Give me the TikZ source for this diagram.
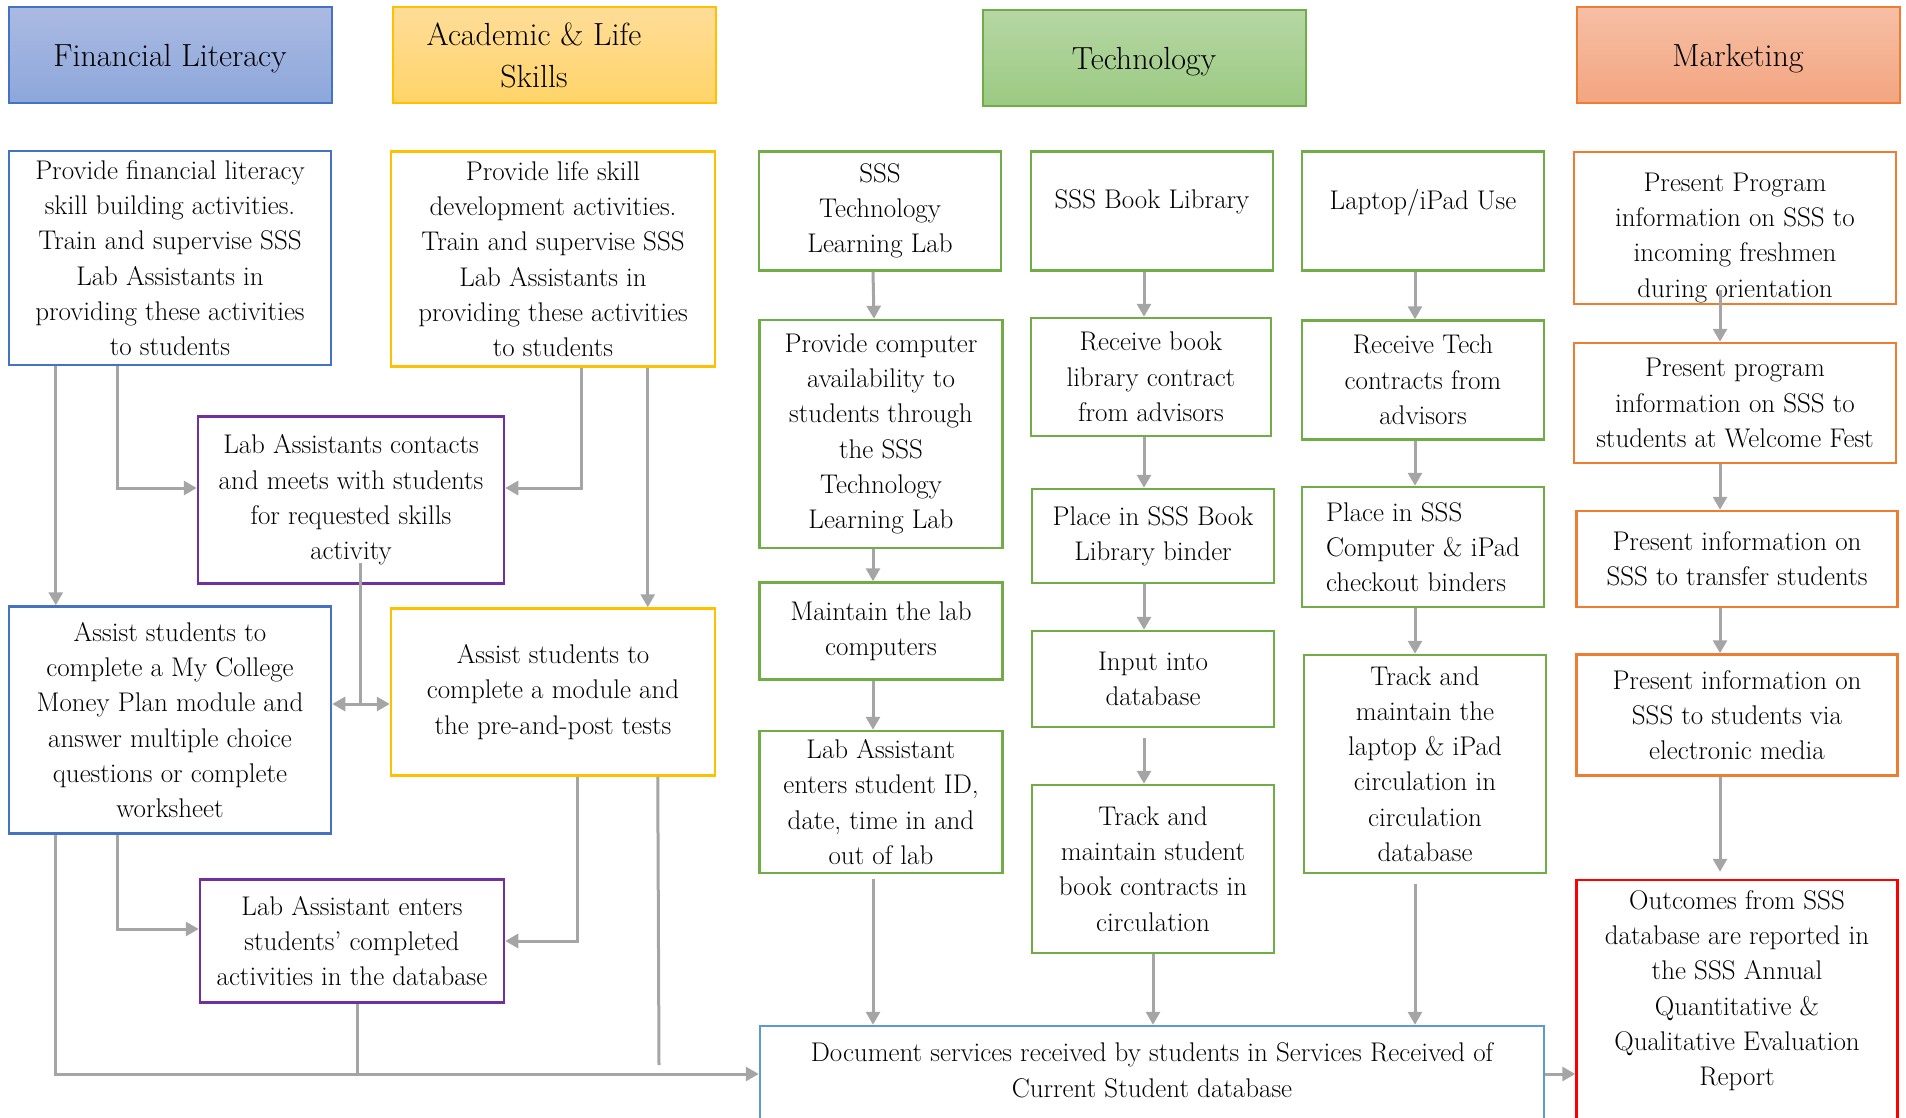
\documentclass[tikz,border=0pt]{standalone}
\usepackage{tikz}
\usetikzlibrary{arrows.meta}
\definecolor{finblue}{HTML}{4472C4}
\definecolor{finhtop}{HTML}{ABBAE2}
\definecolor{finhbot}{HTML}{8DA7DB}
\definecolor{skillgold}{HTML}{FFC000}
\definecolor{skillhtop}{HTML}{FFDD99}
\definecolor{skillhbot}{HTML}{FFD468}
\definecolor{techgreen}{HTML}{70AD47}
\definecolor{techhtop}{HTML}{B6D7A4}
\definecolor{techhbot}{HTML}{9BCA82}
\definecolor{mktorange}{HTML}{ED7D31}
\definecolor{mkthtop}{HTML}{F6BFA5}
\definecolor{mkthbot}{HTML}{F3A580}
\definecolor{labpurple}{HTML}{7030A0}
\definecolor{docblue}{HTML}{5B9BD5}
\definecolor{reportred}{HTML}{FF0000}
\definecolor{linkgrey}{HTML}{A5A5A5}
\tikzset{>={Triangle[width=14pt,length=13pt]}}
\tikzset{
  head/.style={draw, line width=2pt, minimum width=323pt, minimum height=96pt, inner sep=0pt, align=center, font=\fontsize{32}{42}\selectfont},
  box/.style={draw, line width=2.5pt, fill=white, inner xsep=2pt, inner ysep=0pt, align=center, font=\fontsize{27}{35.3}\selectfont},
  link/.style={draw=linkgrey, line width=3pt}
}

\begin{document}
\begin{tikzpicture}[x=1pt, y=-1pt]
      \useasboundingbox (0,0) rectangle (1906,1118);

      \node[head, draw=finblue, top color=finhtop, bottom color=finhbot, text depth=0pt] (finhead) at (170,55) {Financial Literacy};
      \node[head, draw=skillgold, top color=skillhtop, bottom color=skillhbot] (skillhead) at (554,55) {Academic \& Life\hspace*{40pt}\\Skills\hspace*{40pt}};
      \node[head, draw=techgreen, top color=techhtop, bottom color=techhbot, text depth=0pt] (techhead) at (1144,58) {Technology};
      \node[head, draw=mktorange, top color=mkthtop, bottom color=mkthbot, text depth=0pt] (mkthead) at (1738,55) {Marketing};

      \node[box, draw=finblue, minimum width=322pt, minimum height=214pt] (fin1) at (170,258) {Provide financial literacy\\skill building activities.\\Train and supervise SSS\\Lab Assistants in\\providing these activities\\to students};
      \node[box, draw=skillgold, minimum width=324pt, minimum height=215pt] (skill1) at (553,259) {Provide life skill\\development activities.\\Train and supervise SSS\\Lab Assistants in\\providing these activities\\to students};
      \node[box, draw=labpurple, minimum width=306pt, minimum height=167pt] (labmeet) at (351,500) {Lab Assistants contacts\\and meets with students\\for requested skills\\activity};
      \node[box, draw=finblue, minimum width=322pt, minimum height=227pt] (fin2) at (170,720) {Assist students to\\complete a My College\\Money Plan module and\\answer multiple choice\\questions or complete\\worksheet};
      \node[box, draw=skillgold, minimum width=324pt, minimum height=167pt] (skill2) at (553,692) {Assist students to\\complete a module and\\the pre-and-post tests};
      \node[box, draw=labpurple, minimum width=304pt, minimum height=123pt] (labenter) at (352,941) {Lab Assistant enters\\students’ completed\\activities in the database};

      \node[box, draw=techgreen, minimum width=242pt, minimum height=119pt] (tech1) at (880,211) {SSS\\Technology\\Learning Lab};
      \node[box, draw=techgreen, minimum width=243pt, minimum height=228pt] (tech2) at (881,434) {Provide computer\\availability to\\students through\\the SSS\\Technology\\Learning Lab};
      \node[box, draw=techgreen, minimum width=243pt, minimum height=97pt] (tech3) at (881,631) {Maintain the lab\\computers};
      \node[box, draw=techgreen, minimum width=243pt, minimum height=142pt] (tech4) at (881,802) {Lab Assistant\\enters student ID,\\date, time in and\\out of lab};

      \node[box, draw=techgreen, minimum width=242pt, minimum height=119pt, text depth=24pt] (book1) at (1152,211) {SSS Book Library};
      \node[box, draw=techgreen, minimum width=240pt, minimum height=118pt] (book2) at (1151,377) {Receive book\\library contract\\from advisors};
      \node[box, draw=techgreen, minimum width=242pt, minimum height=94pt] (book3) at (1153,536) {Place in SSS Book\\Library binder};
      \node[box, draw=techgreen, minimum width=242pt, minimum height=96pt] (book4) at (1153,679) {Input into\\database};
      \node[box, draw=techgreen, minimum width=242pt, minimum height=168pt] (book5) at (1153,869) {Track and\\maintain student\\book contracts in\\circulation};

      \node[box, draw=techgreen, minimum width=242pt, minimum height=119pt, text depth=24pt] (lap1) at (1423,211) {Laptop/iPad Use};
      \node[box, draw=techgreen, minimum width=242pt, minimum height=119pt] (lap2) at (1423,380) {Receive Tech\\contracts from\\advisors};
      \node[box, draw=techgreen, minimum width=242pt, minimum height=120pt, align=left] (lap3) at (1423,547) {Place in SSS\\Computer \& iPad\\checkout binders};
      \node[box, draw=techgreen, minimum width=242pt, minimum height=218pt] (lap4) at (1425,764) {Track and\\maintain the\\laptop \& iPad\\circulation in\\circulation\\database};

      \node[box, draw=docblue, minimum width=784pt, minimum height=96pt] (doc) at (1152,1074) {Document services received by students in Services Received of\\Current Student database\rule[-8pt]{0pt}{8pt}};

      \node[box, draw=mktorange, minimum width=322pt, minimum height=152pt] (mkt1) at (1735,228) {\rule{0pt}{38pt}Present Program\\information on SSS to\\incoming freshmen\\during orientation};
      \node[box, draw=mktorange, minimum width=322pt, minimum height=120pt] (mkt2) at (1735,403) {Present program\\information on SSS to\\students at Welcome Fest};
      \node[box, draw=mktorange, minimum width=321pt, minimum height=96pt] (mkt3) at (1737,559) {Present information on\\SSS to transfer students};
      \node[box, draw=mktorange, minimum width=321pt, minimum height=121pt] (mkt4) at (1737,715) {Present information on\\SSS to students via\\electronic media};
      \node[box, draw=reportred, minimum width=321pt, minimum height=242pt] (report) at (1737,1001) {Outcomes from SSS\\database are reported in\\the SSS Annual\\Quantitative \&\\Qualitative Evaluation\\Report\rule[-26pt]{0pt}{26pt}};

      \coordinate (meetjoin) at (360,704);
      \coordinate (enterjoin) at (357,1074);
      \coordinate (skillend) at (659,1065);

      \draw[link,->] ([xshift=48pt]fin1.south west) -- ([xshift=48pt]fin2.north west);
      \draw[link,->] ([xshift=110pt]fin1.south west) |- ([yshift=12pt]labmeet.west);
      \draw[link,->] ([xshift=192pt]skill1.south west) |- ([yshift=12pt]labmeet.east);
      \draw[link,->] ([xshift=258pt]skill1.south west) -- ([xshift=258pt]skill2.north west);
      \draw[link] ([xshift=9pt,yshift=22pt]labmeet.south) -- (meetjoin);
      \draw[link,<->] (fin2.east |- meetjoin) -- (skill2.west |- meetjoin);
      \draw[link,->] ([xshift=110pt]fin2.south west) |- ([yshift=12pt]labenter.west);
      \draw[link,->] ([xshift=188pt]skill2.south west) |- (labenter.east);
      \draw[link,->] ([xshift=48pt]fin2.south west) |- (doc.west);
      \draw[link] ([xshift=5pt]labenter.south) -- (enterjoin);
      \draw[link] ([xshift=268pt]skill2.south west) -- (skillend);

      \draw[link,->] ([xshift=-7pt]tech1.south) -- ([xshift=-7pt]tech2.north);
      \draw[link,->] ([xshift=-8pt]tech2.south) -- ([xshift=-8pt]tech3.north);
      \draw[link,->] ([xshift=-8pt]tech3.south) -- ([xshift=-8pt]tech4.north);
      \draw[link,->] ([xshift=-8pt,yshift=-5pt]tech4.south) -- ([xshift=-8pt]tech4.south |- doc.north);

      \draw[link,->] ([xshift=-8pt]book1.south) -- ([xshift=-7pt]book2.north);
      \draw[link,->] ([xshift=-7pt]book2.south) -- ([xshift=-9pt]book3.north);
      \draw[link,->] ([xshift=-9pt]book3.south) -- ([xshift=-9pt]book4.north);
      \draw[link,->] ([xshift=-9pt,yshift=-10pt]book4.south) -- ([xshift=-9pt]book5.north);
      \draw[link,->] (book5.south) -- (book5.south |- doc.north);

      \draw[link,->] ([xshift=-8pt]lap1.south) -- ([xshift=-8pt]lap2.north);
      \draw[link,->] ([xshift=-8pt]lap2.south) -- ([xshift=-8pt]lap3.north);
      \draw[link,->] ([xshift=-8pt]lap3.south) -- ([xshift=-10pt]lap4.north);
      \draw[link,->] ([xshift=-10pt,yshift=-10pt]lap4.south) -- ([xshift=-10pt]lap4.south |- doc.north);

      \draw[link,->] ([xshift=-15pt,yshift=15pt]mkt1.south) -- ([xshift=-15pt]mkt2.north);
      \draw[link,->] ([xshift=-15pt]mkt2.south) -- ([xshift=-17pt]mkt3.north);
      \draw[link,->] ([xshift=-17pt]mkt3.south) -- ([xshift=-17pt]mkt4.north);
      \draw[link,->] ([xshift=-17pt]mkt4.south) -- ([xshift=-17pt,yshift=7pt]report.north);
      \draw[link,->] (doc.east) -- (doc.east -| report.west);
\end{tikzpicture}
\end{document}
